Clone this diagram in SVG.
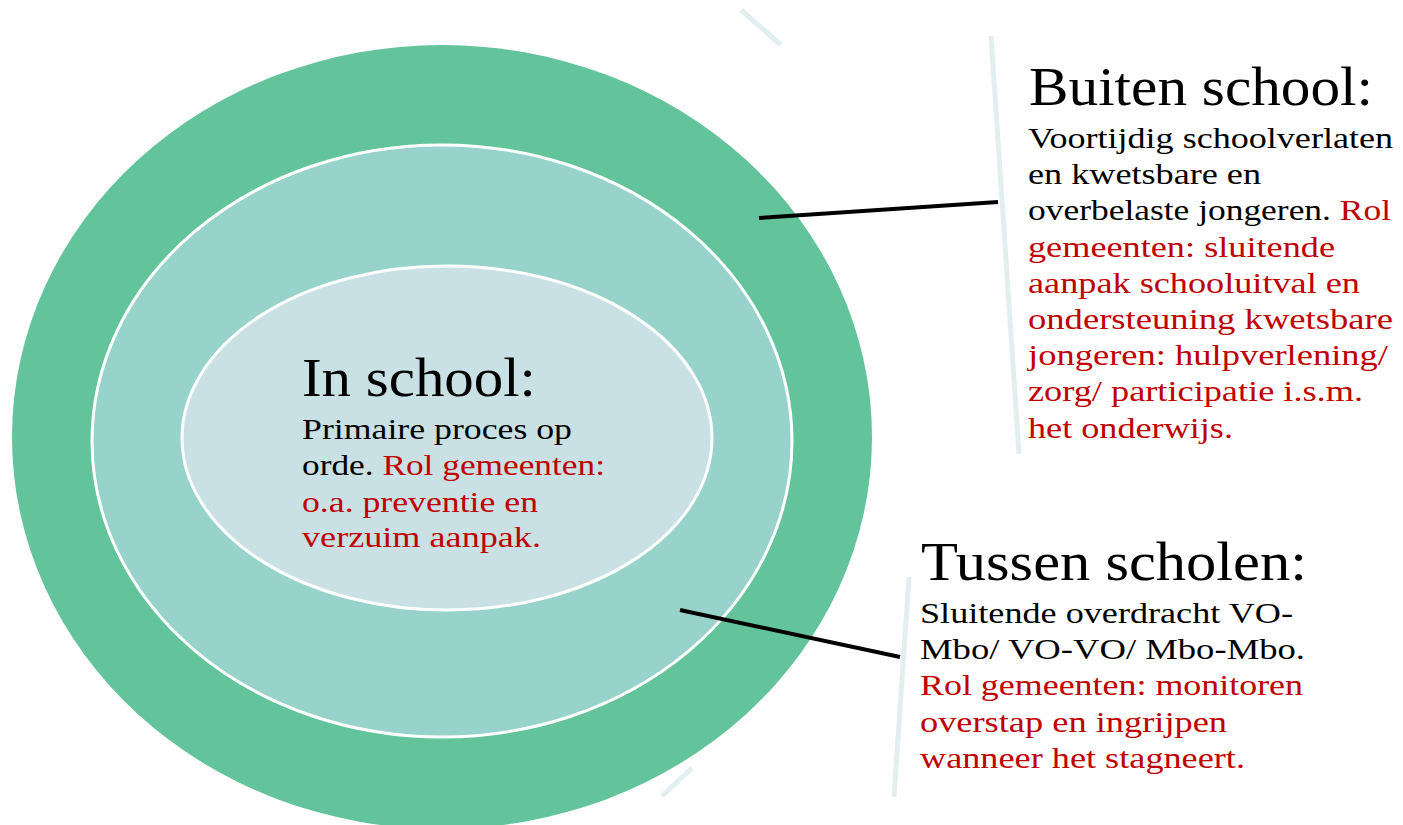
<svg xmlns="http://www.w3.org/2000/svg" width="1403" height="825" viewBox="0 0 1403 825">
<style>
.t{font-family:"Liberation Serif","Times New Roman",serif;fill:#000}
.ti{font-size:55px}
.b{font-size:30px}
.r{fill:#C00000}
.deco{stroke:#E2EEF0;stroke-width:5;fill:none;stroke-linecap:butt}
.conn{stroke:#000;stroke-width:4;fill:none}
.ring{stroke:#fff;stroke-width:3}
</style>
<rect width="1403" height="825" fill="#fff"/>
<g id="decorations">
<line class="deco" x1="741" y1="10" x2="781" y2="45"/>
<line class="deco" x1="662" y1="796" x2="692" y2="768"/>
<line class="deco" x1="991" y1="36" x2="1019" y2="454"/>
<line class="deco" x1="909" y1="577" x2="894" y2="797"/>
</g>
<g id="outer-ring">
<ellipse cx="442" cy="437" rx="430" ry="392" fill="#63C49C"/>
</g>
<g id="middle-ring">
<ellipse class="ring" cx="442" cy="441" rx="350" ry="296" fill="#97D3CA"/>
</g>
<g id="inner-ring">
<ellipse class="ring" cx="447" cy="438" rx="265" ry="172" fill="#C9E1E5"/>
</g>
<g id="connectors">
<line class="conn" x1="759" y1="218" x2="998" y2="202"/>
<line class="conn" x1="680" y1="610" x2="900" y2="657"/>
</g>
<g id="in-school">
<text class="t ti" x="302" y="396" textLength="234" lengthAdjust="spacingAndGlyphs">In school:</text>
<text class="t b" x="302" y="439" textLength="270" lengthAdjust="spacingAndGlyphs">Primaire proces op</text>
<text class="t b" x="302" y="475" textLength="303" lengthAdjust="spacingAndGlyphs">orde. <tspan class="r">Rol gemeenten:</tspan></text>
<text class="t b r" x="302" y="512" textLength="236" lengthAdjust="spacingAndGlyphs">o.a. preventie en</text>
<text class="t b r" x="302" y="547" textLength="239" lengthAdjust="spacingAndGlyphs">verzuim aanpak.</text>
</g>
<g id="buiten-school">
<text class="t ti" x="1029" y="105" textLength="344" lengthAdjust="spacingAndGlyphs">Buiten school:</text>
<text class="t b" x="1028" y="148" textLength="365" lengthAdjust="spacingAndGlyphs">Voortijdig schoolverlaten</text>
<text class="t b" x="1028" y="184" textLength="233" lengthAdjust="spacingAndGlyphs">en kwetsbare en</text>
<text class="t b" x="1028" y="220" textLength="363" lengthAdjust="spacingAndGlyphs">overbelaste jongeren. <tspan class="r">Rol</tspan></text>
<text class="t b r" x="1028" y="257" textLength="307" lengthAdjust="spacingAndGlyphs">gemeenten: sluitende</text>
<text class="t b r" x="1028" y="293" textLength="332" lengthAdjust="spacingAndGlyphs">aanpak schooluitval en</text>
<text class="t b r" x="1028" y="329" textLength="365" lengthAdjust="spacingAndGlyphs">ondersteuning kwetsbare</text>
<text class="t b r" x="1028" y="365" textLength="360" lengthAdjust="spacingAndGlyphs">jongeren: hulpverlening/</text>
<text class="t b r" x="1028" y="401" textLength="335" lengthAdjust="spacingAndGlyphs">zorg/ participatie i.s.m.</text>
<text class="t b r" x="1028" y="438" textLength="205" lengthAdjust="spacingAndGlyphs">het onderwijs.</text>
</g>
<g id="tussen-scholen">
<text class="t ti" x="921" y="580" textLength="386" lengthAdjust="spacingAndGlyphs">Tussen scholen:</text>
<text class="t b" x="920" y="623" textLength="373" lengthAdjust="spacingAndGlyphs">Sluitende overdracht VO-</text>
<text class="t b" x="920" y="659" textLength="385" lengthAdjust="spacingAndGlyphs">Mbo/ VO-VO/ Mbo-Mbo.</text>
<text class="t b r" x="920" y="695" textLength="383" lengthAdjust="spacingAndGlyphs">Rol gemeenten: monitoren</text>
<text class="t b r" x="920" y="732" textLength="307" lengthAdjust="spacingAndGlyphs">overstap en ingrijpen</text>
<text class="t b r" x="920" y="768" textLength="325" lengthAdjust="spacingAndGlyphs">wanneer het stagneert.</text>
</g>
</svg>
